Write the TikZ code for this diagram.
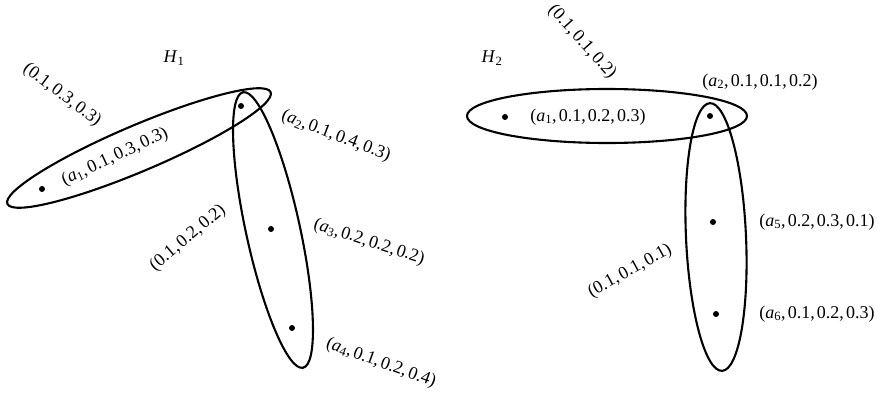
\documentclass[tikz,border=0pt]{standalone}
\usepackage{fontspec}
\setmainfont{Liberation Serif}
\newcommand{\av}[1]{\textit{a}\textsubscript{#1}}
\newcommand{\hv}[1]{\textit{H}\textsubscript{#1}}
\newcommand{\cm}{,\kern0.12em}
\begin{document}
\begin{tikzpicture}[x=1pt,y=-1pt,
  lbl/.style={font=\fontsize{18}{21}\selectfont, inner sep=0pt},
  hedge/.style={draw, line width=2.1pt},
  vert/.style={circle, fill, inner sep=0pt, minimum size=6pt}]
\useasboundingbox (0,0) rectangle (880,396);
% ---------- left hypergraph H1
\node[lbl] (h1) at (174,58) {\hv{1}};
\node[vert] (l1) at (42,189) {};
\node[vert] (l2) at (241,106) {};
\node[vert] (l3) at (271,229) {};
\node[vert] (l4) at (292,328) {};
\draw[hedge, rotate around={23:(139,148)}] (139,148) ellipse [x radius=143, y radius=23];
\draw[hedge, rotate around={-77.7:(273,230)}] (273,230) ellipse [x radius=141, y radius=27];
\node[lbl, rotate=-37] (e1) at (62,95) {(0.1\cm0.3\cm0.3)};
\node[lbl, rotate=25] (t1) at (115,157) {(\av{1}\cm0.1\cm0.3\cm0.3)};
\node[lbl, rotate=-21] (t2) at (336,136) {(\av{2}\cm0.1\cm0.4\cm0.3)};
\node[lbl, rotate=-18] (t3) at (369,242) {(\av{3}\cm0.2\cm0.2\cm0.2)};
\node[lbl, rotate=-20] (t4) at (381,363) {(\av{4}\cm0.1\cm0.2\cm0.4)};
\node[lbl, rotate=40] (e2) at (188,238) {(0.1\cm0.2\cm0.2)};
% ---------- right hypergraph H2
\node[lbl] (h2) at (492,58) {\hv{2}};
\node[vert] (r1) at (505,117) {};
\node[vert] (r2) at (710,116) {};
\node[vert] (r5) at (713,222) {};
\node[vert] (r6) at (716,314) {};
\draw[hedge] (607,116) ellipse [x radius=140, y radius=27];
\draw[hedge, rotate around={-87.4:(716,237)}] (716,237) ellipse [x radius=134, y radius=30];
\node[lbl, rotate=-48] (e3) at (582,42) {(0.1\cm0.1\cm0.2)};
\node[lbl] (s1) at (588,117) {(\av{1}\cm0.1\cm0.2\cm0.3)};
\node[lbl] (s2) at (760,82) {(\av{2}\cm0.1\cm0.1\cm0.2)};
\node[lbl] (s5) at (817,222) {(\av{5}\cm0.2\cm0.3\cm0.1)};
\node[lbl] (s6) at (817,314) {(\av{6}\cm0.1\cm0.2\cm0.3)};
\node[lbl, rotate=29] (e4) at (630,271) {(0.1\cm0.1\cm0.1)};
\end{tikzpicture}
\end{document}
